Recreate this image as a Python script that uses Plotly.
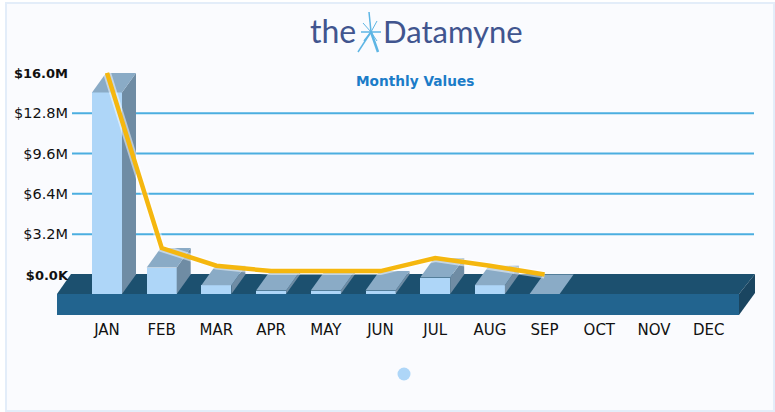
import plotly.graph_objects as go

MONTHS = ["JAN", "FEB", "MAR", "APR", "MAY", "JUN", "JUL", "AUG", "SEP", "OCT", "NOV", "DEC"]
VALUES = [16.0, 2.1, 0.7, 0.27, 0.27, 0.27, 1.3, 0.7, 0.0]
TICK_VALUES = [0, 3.2, 6.4, 9.6, 12.8, 16.0]
TICK_LABELS = ["<b style='font-size:13px'>$0.0K</b>", "$3.2M", "$6.4M", "$9.6M", "$12.8M", "<b style='font-size:13px'>$16.0M</b>"]
TICK_LABELS = ["<span style='font-size:13px'><b>$0.0K</b></span>", "$3.2M", "$6.4M", "$9.6M", "$12.8M",
               "<span style='font-size:13px'><b>$16.0M</b></span>"]
GRID_VALUES = [3.2, 6.4, 9.6, 12.8]

W, H = 775, 412
L, R, T, B = 57, 755, 60, 315          # plot rectangle in page pixels
X0_PX, X_STEP = 107.0, 54.7            # category 0 centre, category spacing
Y0_PX, Y_STEP = 274.5, 12.6            # back-plane zero, px per $M
BAR_W = 30 / X_STEP
DX = 14 / X_STEP                       # 3D depth in axis units
DY = 19.5 / Y_STEP

C_FRONT, C_TOP, C_SIDE = "#AED6F8", "#8AABC6", "#6F8CA4"
C_FLOOR_FRONT, C_FLOOR_TOP, C_FLOOR_SIDE = "#22648F", "#1C506F", "#1A4560"
C_GRID, C_LINE = "#4BAEE0", "#F5B70F"


def xd(px):
    return (px - X0_PX) / X_STEP


def yd(px):
    return (Y0_PX - px) / Y_STEP


def xp(px):
    return (px - L) / (R - L)


def yp(py):
    return (B - py) / (B - T)


idx = list(range(len(VALUES)))
fig = go.Figure()

# front faces
fig.add_trace(go.Bar(x=idx, y=VALUES, base=[-DY] * len(VALUES), width=BAR_W,
                     marker=dict(color=C_FRONT, line=dict(width=0)), showlegend=False))

# side and top faces derived from the values
for i, v in zip(idx, VALUES):
    a, b = i - BAR_W / 2, i + BAR_W / 2
    if v > 0:
        fig.add_trace(go.Scatter(x=[b, b + DX, b + DX, b, b], y=[-DY, 0, v, v - DY, -DY],
                                 mode="lines", fill="toself", fillcolor=C_SIDE,
                                 line=dict(width=0), showlegend=False))
    fig.add_trace(go.Scatter(x=[a, b, b + DX, a + DX, a], y=[v - DY, v - DY, v, v, v - DY],
                             mode="lines", fill="toself", fillcolor=C_TOP,
                             line=dict(width=0), showlegend=False))

# the line
fig.add_trace(go.Scatter(x=idx, y=VALUES, mode="lines", line=dict(color="rgba(255,255,255,0.5)", width=8),
                         showlegend=False))
fig.add_trace(go.Scatter(x=idx, y=VALUES, mode="lines", line=dict(color=C_LINE, width=4.5),
                         showlegend=False))

shapes = [
    dict(type="rect", xref="paper", yref="paper", x0=xp(6), x1=xp(774), y0=yp(3), y1=yp(411),
         fillcolor="#FAFBFE", line=dict(color="#E3EDF9", width=2), layer="below"),
]
for g in GRID_VALUES:
    shapes.append(dict(type="line", x0=xd(72), x1=xd(754), y0=g, y1=g,
                       line=dict(color=C_GRID, width=2), layer="below"))


def poly(pts, color):
    path = "M " + " L ".join(f"{xd(x)},{yd(y)}" for x, y in pts) + " Z"
    return dict(type="path", path=path, fillcolor=color, line=dict(width=0), layer="below")


shapes += [
    poly([(57, 294), (71, 274), (755, 274), (739, 294)], C_FLOOR_TOP),
    poly([(57, 294), (739, 294), (739, 315), (57, 315)], C_FLOOR_FRONT),
    poly([(739, 294), (755, 274), (755, 293), (739, 315)], C_FLOOR_SIDE),
    dict(type="circle", xref="paper", yref="paper", x0=xp(397.5), x1=xp(410.5), y0=yp(380.5), y1=yp(367.5),
         fillcolor=C_FRONT, line=dict(width=0)),
]
# logo star
for (x, y, w) in [(369, 12, 1.5), (378, 52, 2.5), (358, 52, 1.5), (381, 32, 1.5), (361, 32, 1.5),
                  (377, 21, 1), (363, 23, 1), (364, 41, 1.5), (377, 41, 1)]:
    shapes.append(dict(type="line", xref="paper", yref="paper", x0=xp(371), y0=yp(32), x1=xp(x), y1=yp(y),
                       line=dict(color="#5DB5E4", width=w)))

annotations = [
    dict(text="the", x=xp(333), y=yp(31), font=dict(family="Lato", size=32, color="#41558F")),
    dict(text="Datamyne", x=xp(452.5), y=yp(31), font=dict(family="Lato", size=31, color="#41558F")),
    dict(text="<b>Monthly Values</b>", x=xp(415), y=yp(81), font=dict(family="DejaVu Sans", size=13.7, color="#1B7CC8")),
]
for a in annotations:
    a.update(xref="paper", yref="paper", showarrow=False, xanchor="center", yanchor="middle")

fig.update_layout(
    width=W, height=H, autosize=False,
    margin=dict(l=L, r=W - R, t=T, b=H - B, pad=0),
    paper_bgcolor="white", plot_bgcolor="rgba(0,0,0,0)",
    bargap=0, shapes=shapes, annotations=annotations, showlegend=False,
    xaxis=dict(range=[xd(L), xd(R)], tickmode="array", tickvals=list(range(12)), ticktext=MONTHS,
               automargin=False, showgrid=False, zeroline=False, showline=False, ticks="outside", ticklen=1,
               tickcolor="rgba(0,0,0,0)", tickfont=dict(family="DejaVu Sans", size=15, color="#111111")),
    yaxis=dict(range=[yd(B), yd(T)], tickmode="array", tickvals=TICK_VALUES, ticktext=TICK_LABELS,
               automargin=False, showgrid=False, zeroline=False, showline=False, ticks="",
               ticklabelstandoff=-12, tickfont=dict(family="DejaVu Sans", size=14.5, color="#111111")),
)
fig.write_html("out.html", config={"displayModeBar": False},
               post_script="document.body.style.margin='0';document.documentElement.style.overflow='hidden';")
